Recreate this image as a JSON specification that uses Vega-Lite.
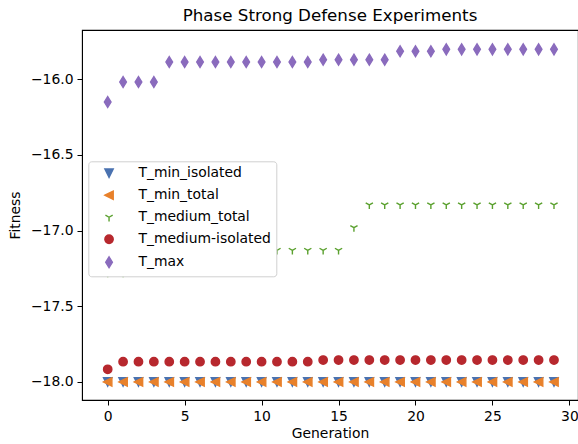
{
  "$schema": "https://vega.github.io/schema/vega-lite/v6.json",
  "width": 496,
  "height": 370,
  "autosize": "none",
  "padding": {"left": 82, "top": 30, "right": 0, "bottom": 44},
  "background": "white",
  "title": {"text": "Phase Strong Defense Experiments", "fontSize": 16.7, "fontWeight": "normal", "font": "DejaVu Sans", "color": "black", "offset": 5},
  "config": {
    "font": "DejaVu Sans",
    "view": {"stroke": "black", "strokeWidth": 1.1},
    "axis": {"labelFontSize": 13.9, "titleFontSize": 13.9, "titleFontWeight": "normal", "labelColor": "black", "titleColor": "black", "tickColor": "black", "domainColor": "black", "tickSize": 5, "grid": false, "labelPadding": 4, "labelFont": "DejaVu Sans", "titleFont": "DejaVu Sans"},
    "legend": {"orient": "none", "legendX": 6.3, "legendY": 131.3, "padding": 5, "labelFontSize": 13.9, "labelFont": "DejaVu Sans", "labelColor": "black", "symbolSize": 70, "symbolStrokeWidth": 1.4, "rowPadding": 7, "labelOffset": 22.5, "symbolOffset": 8.8, "fillColor": "white", "strokeColor": "#d0d0d0", "cornerRadius": 3, "labelLimit": 300}
  },
  "data": {"values": [
    {"g":0,"v":-18.0,"s":"T_min_isolated"},{"g":1,"v":-18.0,"s":"T_min_isolated"},{"g":2,"v":-18.0,"s":"T_min_isolated"},{"g":3,"v":-18.0,"s":"T_min_isolated"},{"g":4,"v":-18.0,"s":"T_min_isolated"},{"g":5,"v":-18.0,"s":"T_min_isolated"},{"g":6,"v":-18.0,"s":"T_min_isolated"},{"g":7,"v":-18.0,"s":"T_min_isolated"},{"g":8,"v":-18.0,"s":"T_min_isolated"},{"g":9,"v":-18.0,"s":"T_min_isolated"},{"g":10,"v":-18.0,"s":"T_min_isolated"},{"g":11,"v":-18.0,"s":"T_min_isolated"},{"g":12,"v":-18.0,"s":"T_min_isolated"},{"g":13,"v":-18.0,"s":"T_min_isolated"},{"g":14,"v":-18.0,"s":"T_min_isolated"},{"g":15,"v":-18.0,"s":"T_min_isolated"},{"g":16,"v":-18.0,"s":"T_min_isolated"},{"g":17,"v":-18.0,"s":"T_min_isolated"},{"g":18,"v":-18.0,"s":"T_min_isolated"},{"g":19,"v":-18.0,"s":"T_min_isolated"},{"g":20,"v":-18.0,"s":"T_min_isolated"},{"g":21,"v":-18.0,"s":"T_min_isolated"},{"g":22,"v":-18.0,"s":"T_min_isolated"},{"g":23,"v":-18.0,"s":"T_min_isolated"},{"g":24,"v":-18.0,"s":"T_min_isolated"},{"g":25,"v":-18.0,"s":"T_min_isolated"},{"g":26,"v":-18.0,"s":"T_min_isolated"},{"g":27,"v":-18.0,"s":"T_min_isolated"},{"g":28,"v":-18.0,"s":"T_min_isolated"},{"g":29,"v":-18.0,"s":"T_min_isolated"},
    {"g":0,"v":-18.0,"s":"T_min_total"},{"g":1,"v":-18.0,"s":"T_min_total"},{"g":2,"v":-18.0,"s":"T_min_total"},{"g":3,"v":-18.0,"s":"T_min_total"},{"g":4,"v":-18.0,"s":"T_min_total"},{"g":5,"v":-18.0,"s":"T_min_total"},{"g":6,"v":-18.0,"s":"T_min_total"},{"g":7,"v":-18.0,"s":"T_min_total"},{"g":8,"v":-18.0,"s":"T_min_total"},{"g":9,"v":-18.0,"s":"T_min_total"},{"g":10,"v":-18.0,"s":"T_min_total"},{"g":11,"v":-18.0,"s":"T_min_total"},{"g":12,"v":-18.0,"s":"T_min_total"},{"g":13,"v":-18.0,"s":"T_min_total"},{"g":14,"v":-18.0,"s":"T_min_total"},{"g":15,"v":-18.0,"s":"T_min_total"},{"g":16,"v":-18.0,"s":"T_min_total"},{"g":17,"v":-18.0,"s":"T_min_total"},{"g":18,"v":-18.0,"s":"T_min_total"},{"g":19,"v":-18.0,"s":"T_min_total"},{"g":20,"v":-18.0,"s":"T_min_total"},{"g":21,"v":-18.0,"s":"T_min_total"},{"g":22,"v":-18.0,"s":"T_min_total"},{"g":23,"v":-18.0,"s":"T_min_total"},{"g":24,"v":-18.0,"s":"T_min_total"},{"g":25,"v":-18.0,"s":"T_min_total"},{"g":26,"v":-18.0,"s":"T_min_total"},{"g":27,"v":-18.0,"s":"T_min_total"},{"g":28,"v":-18.0,"s":"T_min_total"},{"g":29,"v":-18.0,"s":"T_min_total"},
    {"g":0,"v":-17.28,"s":"T_medium_total"},{"g":1,"v":-17.28,"s":"T_medium_total"},{"g":2,"v":-17.13,"s":"T_medium_total"},{"g":3,"v":-17.13,"s":"T_medium_total"},{"g":4,"v":-17.13,"s":"T_medium_total"},{"g":5,"v":-17.13,"s":"T_medium_total"},{"g":6,"v":-17.13,"s":"T_medium_total"},{"g":7,"v":-17.13,"s":"T_medium_total"},{"g":8,"v":-17.13,"s":"T_medium_total"},{"g":9,"v":-17.13,"s":"T_medium_total"},{"g":10,"v":-17.13,"s":"T_medium_total"},{"g":11,"v":-17.13,"s":"T_medium_total"},{"g":12,"v":-17.13,"s":"T_medium_total"},{"g":13,"v":-17.13,"s":"T_medium_total"},{"g":14,"v":-17.13,"s":"T_medium_total"},{"g":15,"v":-17.13,"s":"T_medium_total"},{"g":16,"v":-16.98,"s":"T_medium_total"},{"g":17,"v":-16.83,"s":"T_medium_total"},{"g":18,"v":-16.83,"s":"T_medium_total"},{"g":19,"v":-16.83,"s":"T_medium_total"},{"g":20,"v":-16.83,"s":"T_medium_total"},{"g":21,"v":-16.83,"s":"T_medium_total"},{"g":22,"v":-16.83,"s":"T_medium_total"},{"g":23,"v":-16.83,"s":"T_medium_total"},{"g":24,"v":-16.83,"s":"T_medium_total"},{"g":25,"v":-16.83,"s":"T_medium_total"},{"g":26,"v":-16.83,"s":"T_medium_total"},{"g":27,"v":-16.83,"s":"T_medium_total"},{"g":28,"v":-16.83,"s":"T_medium_total"},{"g":29,"v":-16.83,"s":"T_medium_total"},
    {"g":0,"v":-17.916,"s":"T_medium-isolated"},{"g":1,"v":-17.866,"s":"T_medium-isolated"},{"g":2,"v":-17.866,"s":"T_medium-isolated"},{"g":3,"v":-17.866,"s":"T_medium-isolated"},{"g":4,"v":-17.866,"s":"T_medium-isolated"},{"g":5,"v":-17.866,"s":"T_medium-isolated"},{"g":6,"v":-17.866,"s":"T_medium-isolated"},{"g":7,"v":-17.866,"s":"T_medium-isolated"},{"g":8,"v":-17.866,"s":"T_medium-isolated"},{"g":9,"v":-17.866,"s":"T_medium-isolated"},{"g":10,"v":-17.866,"s":"T_medium-isolated"},{"g":11,"v":-17.866,"s":"T_medium-isolated"},{"g":12,"v":-17.866,"s":"T_medium-isolated"},{"g":13,"v":-17.866,"s":"T_medium-isolated"},{"g":14,"v":-17.855,"s":"T_medium-isolated"},{"g":15,"v":-17.855,"s":"T_medium-isolated"},{"g":16,"v":-17.855,"s":"T_medium-isolated"},{"g":17,"v":-17.855,"s":"T_medium-isolated"},{"g":18,"v":-17.855,"s":"T_medium-isolated"},{"g":19,"v":-17.855,"s":"T_medium-isolated"},{"g":20,"v":-17.855,"s":"T_medium-isolated"},{"g":21,"v":-17.855,"s":"T_medium-isolated"},{"g":22,"v":-17.855,"s":"T_medium-isolated"},{"g":23,"v":-17.855,"s":"T_medium-isolated"},{"g":24,"v":-17.855,"s":"T_medium-isolated"},{"g":25,"v":-17.855,"s":"T_medium-isolated"},{"g":26,"v":-17.855,"s":"T_medium-isolated"},{"g":27,"v":-17.855,"s":"T_medium-isolated"},{"g":28,"v":-17.855,"s":"T_medium-isolated"},{"g":29,"v":-17.855,"s":"T_medium-isolated"},
    {"g":0,"v":-16.15,"s":"T_max"},{"g":1,"v":-16.018,"s":"T_max"},{"g":2,"v":-16.018,"s":"T_max"},{"g":3,"v":-16.018,"s":"T_max"},{"g":4,"v":-15.886,"s":"T_max"},{"g":5,"v":-15.886,"s":"T_max"},{"g":6,"v":-15.886,"s":"T_max"},{"g":7,"v":-15.886,"s":"T_max"},{"g":8,"v":-15.886,"s":"T_max"},{"g":9,"v":-15.886,"s":"T_max"},{"g":10,"v":-15.886,"s":"T_max"},{"g":11,"v":-15.886,"s":"T_max"},{"g":12,"v":-15.886,"s":"T_max"},{"g":13,"v":-15.886,"s":"T_max"},{"g":14,"v":-15.87,"s":"T_max"},{"g":15,"v":-15.87,"s":"T_max"},{"g":16,"v":-15.87,"s":"T_max"},{"g":17,"v":-15.87,"s":"T_max"},{"g":18,"v":-15.87,"s":"T_max"},{"g":19,"v":-15.815,"s":"T_max"},{"g":20,"v":-15.815,"s":"T_max"},{"g":21,"v":-15.815,"s":"T_max"},{"g":22,"v":-15.802,"s":"T_max"},{"g":23,"v":-15.802,"s":"T_max"},{"g":24,"v":-15.802,"s":"T_max"},{"g":25,"v":-15.802,"s":"T_max"},{"g":26,"v":-15.802,"s":"T_max"},{"g":27,"v":-15.802,"s":"T_max"},{"g":28,"v":-15.802,"s":"T_max"},{"g":29,"v":-15.802,"s":"T_max"}
  ]},
  "mark": {"type": "point", "filled": true, "size": 70, "strokeWidth": 1.4, "opacity": 1},
  "encoding": {
    "x": {"field": "g", "type": "quantitative", "title": "Generation",
      "scale": {"domain": [-1.67, 30.56], "nice": false, "zero": false},
      "axis": {"values": [0, 5, 10, 15, 20, 25, 30], "format": "d", "titlePadding": 4}},
    "y": {"field": "v", "type": "quantitative", "title": "Fitness",
      "scale": {"domain": [-18.119, -15.674], "nice": false, "zero": false},
      "axis": {"values": [-18, -17.5, -17, -16.5, -16], "labelExpr": "replace(format(datum.value, '.1f'), '-', '\u2212')", "titlePadding": 8}},
    "fill": {"field": "s", "type": "nominal",
      "scale": {"domain": ["T_min_isolated", "T_min_total", "T_medium_total", "T_medium-isolated", "T_max"], "range": ["#4a72b0", "#e8812b", "#5ba12f", "#b7282e", "#8a6bbd"]},
      "legend": {"title": null}},
    "stroke": {"field": "s", "type": "nominal",
      "scale": {"domain": ["T_min_isolated", "T_min_total", "T_medium_total", "T_medium-isolated", "T_max"], "range": ["#4a72b0", "#e8812b", "#5ba12f", "#b7282e", "#8a6bbd"]},
      "legend": {"title": null}},
    "shape": {"field": "s", "type": "nominal",
      "scale": {"domain": ["T_min_isolated", "T_min_total", "T_medium_total", "T_medium-isolated", "T_max"], "range": ["M-1,-1L1,-1L0,1Z", "M-1,0L1,-1L1,1Z", "M0,0L0,1M0,0L-0.866,-0.5M0,0L0.866,-0.5", "circle", "M0,-1.3L0.8,0L0,1.3L-0.8,0Z"]},
      "legend": {"title": null}}
  }
}
